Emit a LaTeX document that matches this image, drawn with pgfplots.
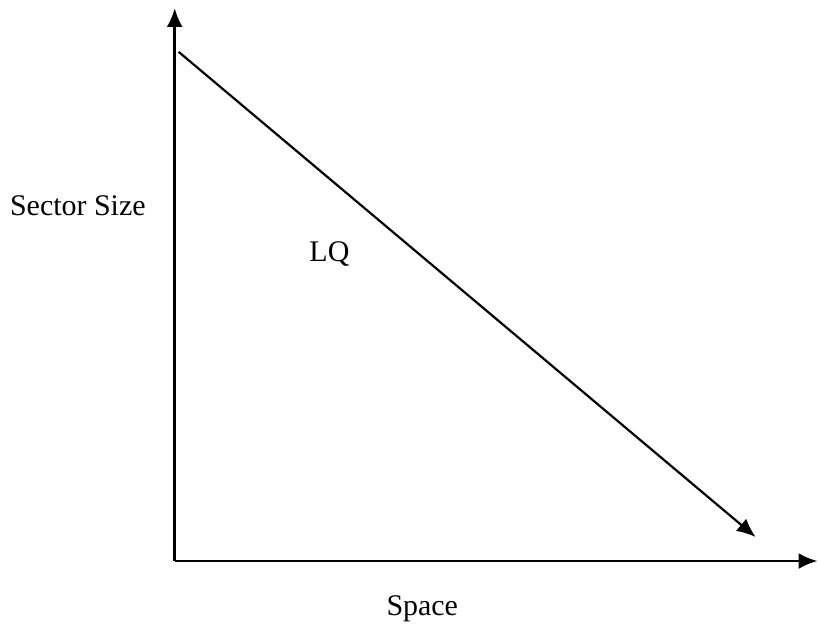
\documentclass[border=0pt]{standalone}
\usepackage{pgfplots}
\pgfplotsset{compat=1.18}
\usetikzlibrary{arrows.meta}
\usepackage{fontspec}
\setmainfont{Liberation Serif}
\begin{document}
\begin{tikzpicture}
\begin{axis}[
  x=0.5pt, y=0.5pt,
  xmin=175, xmax=819, ymin=64, ymax=618,
  axis lines=left,
  axis line style={line width=1.4pt, -{Latex[length=9.5pt,width=8pt]}},
  xtick=\empty, ytick=\empty,
  clip=false,
]
\path (axis cs:0,0) rectangle (axis cs:819,626);
\addplot[black, line width=1.1pt, -{Latex[length=9.5pt,width=8pt]}] coordinates {(179,574) (757,88)};
\node[inner sep=0pt, font=\fontsize{15}{18}\selectfont] at (axis cs:78,420) {Sector Size};
\node[inner sep=0pt, font=\fontsize{15}{18}\selectfont] at (axis cs:330,372) {LQ};
\node[inner sep=0pt, font=\fontsize{15}{18}\selectfont] at (axis cs:423,16) {Space};
\end{axis}
\end{tikzpicture}
\end{document}
